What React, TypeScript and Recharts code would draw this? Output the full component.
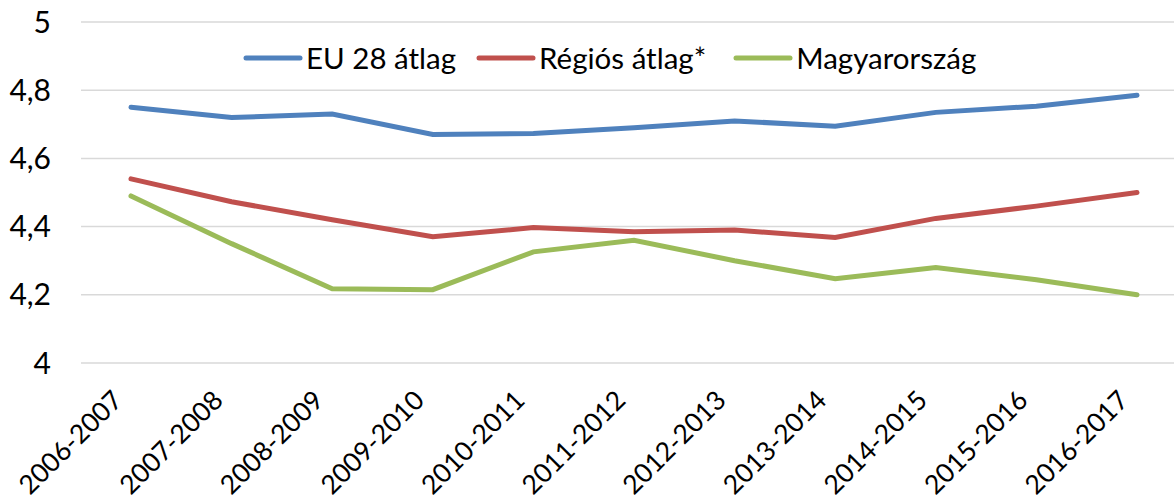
import React from 'react';
import { LineChart, CartesianGrid, XAxis, YAxis, Legend, Line } from 'recharts';

const periods = [
  '2006-2007', '2007-2008', '2008-2009', '2009-2010', '2010-2011', '2011-2012',
  '2012-2013', '2013-2014', '2014-2015', '2015-2016', '2016-2017',
];
const euAvg = [4.75, 4.72, 4.73, 4.67, 4.673, 4.69, 4.71, 4.694, 4.735, 4.753, 4.785];
const regionAvg = [4.54, 4.473, 4.42, 4.37, 4.397, 4.385, 4.39, 4.368, 4.424, 4.46, 4.5];
const hungary = [4.49, 4.35, 4.218, 4.215, 4.326, 4.36, 4.3, 4.247, 4.28, 4.244, 4.2];
const yTicks = [4, 4.2, 4.4, 4.6, 4.8, 5];

const seriesInfo = [
  { key: 'eu', name: 'EU 28 átlag', color: '#4F81BD', gap: 20 },
  { key: 'region', name: 'Régiós átlag*', color: '#C0504D', gap: 27 },
  { key: 'hu', name: 'Magyarország', color: '#9BBB59', gap: 0 },
];

const data = periods.map((p, i) => ({
  period: p,
  eu: euAvg[i],
  region: regionAvg[i],
  hu: hungary[i],
}));

const FONT = 'Lato, "Open Sans", sans-serif';

function XTick(props: any) {
  const { x, y, payload } = props;
  return (
    <text
      transform={`translate(${x - 7},${y + 31}) rotate(-45)`}
      textAnchor="end"
      fontSize={26.5}
      fontFamily={FONT}
      fill="#000"
    >
      {payload.value}
    </text>
  );
}

function LegendBox() {
  return (
    <div style={{ display: 'flex', alignItems: 'center', fontFamily: FONT, fontSize: 29.5, color: '#000' }}>
      {seriesInfo.map((s) => (
        <div key={s.key} style={{ display: 'flex', alignItems: 'center', marginRight: s.gap }}>
          <svg width={60} height={10} style={{ marginRight: 3 }}>
            <line x1={3} y1={5} x2={57} y2={5} stroke={s.color} strokeWidth={5} strokeLinecap="round" />
          </svg>
          <span>{s.name}</span>
        </div>
      ))}
    </div>
  );
}

export default function App() {
  return (
    <div style={{ position: 'absolute', left: 0, top: 0, width: 1174, height: 503, overflow: 'hidden', background: '#fff' }}>
      <LineChart
        width={1200}
        height={503}
        data={data}
        margin={{ top: 22, right: 13, left: 0, bottom: 0 }}
      >
        <CartesianGrid vertical={false} stroke="#D9D9D9" strokeWidth={1.5} />
        <XAxis
          dataKey="period"
          axisLine={false}
          tickLine={false}
          height={140}
          interval={0}
          padding={{ left: 50, right: 50 }}
          tick={<XTick />}
        />
        <YAxis
          domain={[4, 5]}
          ticks={yTicks}
          width={81}
          axisLine={false}
          tickLine={false}
          tickSize={0}
          tickMargin={30}
          tickFormatter={(v: number) => String(v).replace('.', ',')}
          tick={{ fontSize: 30, fontFamily: FONT, fill: '#000' }}
        />
        <Legend
          verticalAlign="middle"
          layout="horizontal"
          content={<LegendBox />}
          wrapperStyle={{ left: 243, top: 40, width: 'auto', height: 'auto' }}
        />
        {seriesInfo.map((s) => (
          <Line
            key={s.key}
            type="linear"
            dataKey={s.key}
            name={s.name}
            stroke={s.color}
            strokeWidth={5}
            strokeLinecap="round"
            dot={false}
            isAnimationActive={false}
          />
        ))}
      </LineChart>
    </div>
  );
}
